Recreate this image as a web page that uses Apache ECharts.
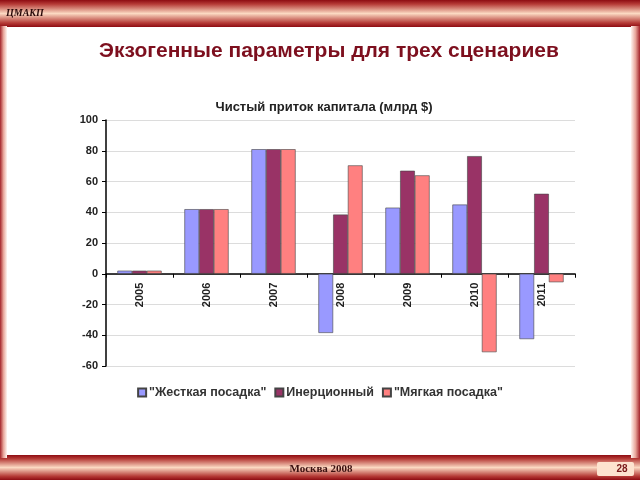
<!DOCTYPE html>
<html><head><meta charset="utf-8">
<script src="https://cdn.jsdelivr.net/npm/echarts@6/dist/echarts.min.js"></script>
<style>html,body{margin:0;padding:0;background:#fff}#c{width:640px;height:480px}</style>
</head><body><div id="c"></div>
<script>
var categories = ['2005','2006','2007','2008','2009','2010','2011'];
var seriesNames = ['"Жесткая посадка"', 'Инерционный', '"Мягкая посадка"'];
var hardLanding = [2, 42, 81, -38.5, 43, 45, -42.5];
var inertial = [2, 42, 81, 38.5, 67, 76.5, 52];
var softLanding = [2, 42, 81, 70.5, 64, -51, -5.5];
var yTicks = {min: -60, max: 100, interval: 20};

var gridTop = 120, gridBottom = 114, chartH = 480;
var plotH = chartH - gridTop - gridBottom;
var zeroOffset = -plotH * (0 - yTicks.min) / (yTicks.max - yTicks.min);

var chart = echarts.init(document.getElementById('c'), null, {renderer: 'canvas'});
function band(y, h) {
  return {
    type: 'rect', shape: {x: 0, y: y, width: 640, height: h}, silent: true,
    style: {fill: new echarts.graphic.LinearGradient(0, 0, 0, 1, [
      {offset: 0, color: '#8e0c12'}, {offset: 0.15, color: '#b53a36'},
      {offset: 0.5, color: '#fbd9c2'}, {offset: 0.85, color: '#b53a36'},
      {offset: 1, color: '#8e0c12'}])}
  };
}
function side(x, w, rev) {
  var stops = [{offset: 0, color: '#a3232a'}, {offset: 0.5, color: '#e8a59a'}, {offset: 1, color: '#fff4ef'}];
  if (rev) stops = [{offset: 0, color: '#fff4ef'}, {offset: 0.5, color: '#e8a59a'}, {offset: 1, color: '#a3232a'}];
  return {type: 'rect', shape: {x: x, y: 26, width: w, height: 432}, silent: true,
    style: {fill: new echarts.graphic.LinearGradient(0, 0, 1, 0, stops)}};
}
var colors = ['#9999ff', '#993366', '#ff8080'];
var data = [hardLanding, inertial, softLanding];
chart.setOption({
  animation: false,
  color: colors,
  graphic: [
    band(0, 27), band(455, 25), side(0, 7, false), side(631, 9, true),
    {type: 'text', x: 6, y: 13, style: {text: 'ЦМАКП', font: 'italic bold 10px "Liberation Serif"', fill: '#2a0a0a', verticalAlign: 'middle'}},
    {type: 'text', x: 321, y: 469, style: {text: 'Москва 2008', font: 'bold 11px "Liberation Serif"', fill: '#3a1010', align: 'center', verticalAlign: 'middle'}},
    {type: 'rect', shape: {x: 597, y: 462, width: 37, height: 14, r: 2}, style: {fill: '#fde3cf'}},
    {type: 'text', x: 622, y: 469, style: {text: '28', font: 'bold 10px "Liberation Sans"', fill: '#7a1a1a', align: 'center', verticalAlign: 'middle'}}
  ],
  title: [
    {text: 'Экзогенные параметры для трех сценариев', left: 324, top: 36, textAlign: 'center',
     textStyle: {fontFamily: 'Liberation Sans', fontSize: 21, fontWeight: 'bold', color: '#7d0f1e'}},
    {text: 'Чистый приток капитала (млрд $)', left: 319, top: 96, textAlign: 'center',
     textStyle: {fontFamily: 'Liberation Sans', fontSize: 13, fontWeight: 'bold', color: '#222'}}
  ],
  legend: {
    data: seriesNames, top: 381, left: 'center', itemWidth: 8, itemHeight: 8, itemGap: 8,
    icon: 'rect',
    textStyle: {fontFamily: 'Liberation Sans', fontSize: 12.5, fontWeight: 'bold', color: '#333', padding: [0, 0, 0, -2]}
  },
  grid: {left: 106, right: 65, top: gridTop, bottom: gridBottom, containLabel: false},
  xAxis: {
    type: 'category', data: categories, position: 'bottom', offset: zeroOffset,
    axisLine: {onZero: false, lineStyle: {color: '#000', width: 1.5}},
    axisTick: {show: true, length: 4, lineStyle: {color: '#000'}},
    axisLabel: {rotate: 90, margin: 9, fontFamily: 'Liberation Sans', fontSize: 11, fontWeight: 'bold', color: '#222'},
    splitLine: {show: false}
  },
  yAxis: {
    type: 'value', min: yTicks.min, max: yTicks.max, interval: yTicks.interval,
    axisLine: {show: true, lineStyle: {color: '#000', width: 1.5}},
    axisTick: {show: true, length: 4, lineStyle: {color: '#000'}},
    axisLabel: {margin: 8, fontFamily: 'Liberation Sans', fontSize: 11, fontWeight: 'bold', color: '#222'},
    splitLine: {lineStyle: {color: '#dcdcdc', width: 1}}
  },
  series: seriesNames.map(function (n, i) {
    return {
      name: n, type: 'bar', data: data[i], barGap: '0%', barCategoryGap: '34%',
      itemStyle: {color: colors[i], borderColor: '#444', borderWidth: 0.6}
    };
  })
});
</script></body></html>
